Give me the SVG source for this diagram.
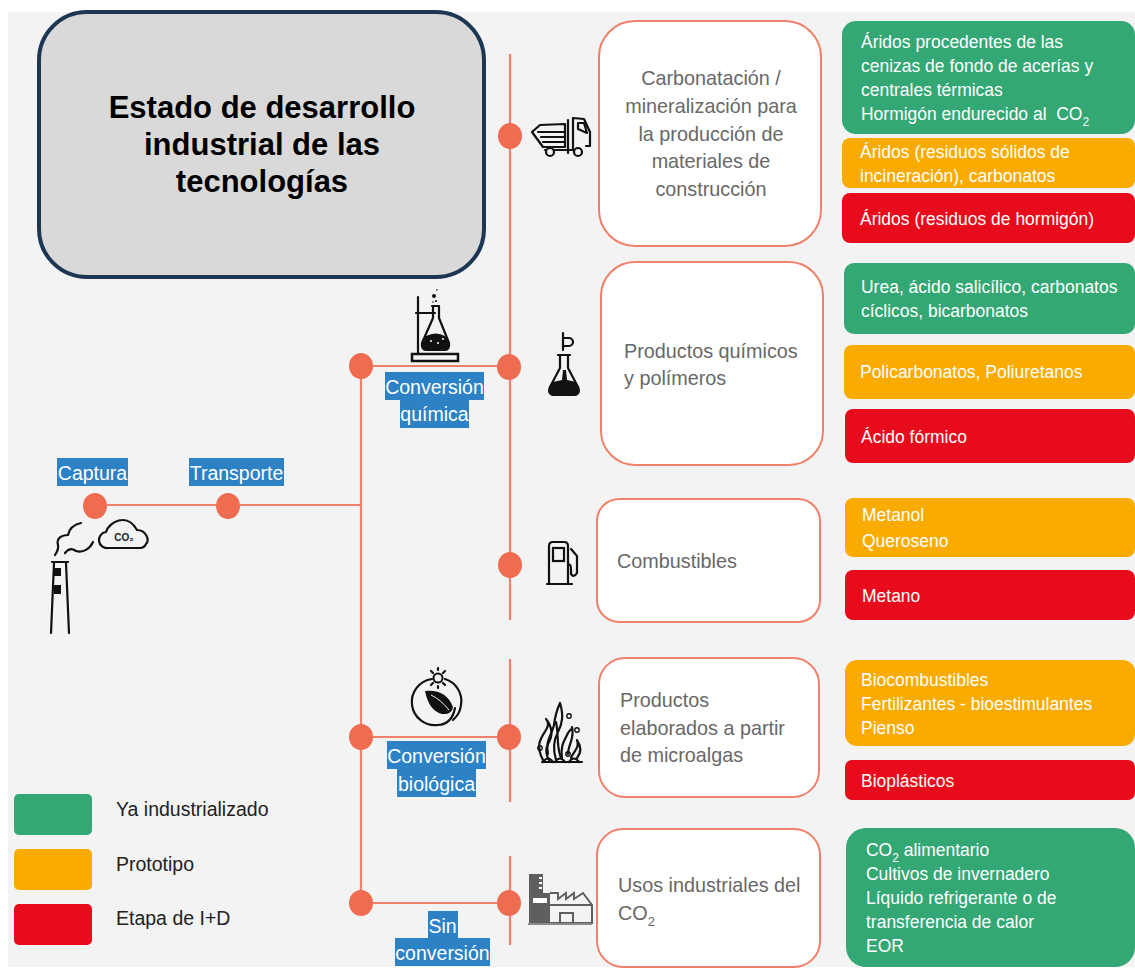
<svg xmlns="http://www.w3.org/2000/svg" width="1135" height="968" viewBox="0 0 1135 968">
<style>
text{font-family:"Liberation Sans",Arial,sans-serif;font-size:19px}
.box{fill:#fff;stroke:#f0806a;stroke-width:2}
.g{fill:#33a875}.o{fill:#f9ab00}.r{fill:#e70b1c}
.w{fill:#fff}
.t{fill:#686868;font-size:19.8px}
.m{text-anchor:middle}
.lab{fill:#2c82c4}
.ll{fill:#fff;font-size:19.5px}
.line{stroke:#f0806a;stroke-width:2.2;fill:none}
.dot{fill:#f06c50}
.k{fill:none;stroke:#111;stroke-width:2.200;stroke-linecap:round;stroke-linejoin:round}
.f{fill:#111}
.leg{fill:#222;font-size:19.5px}
.ti{font-weight:bold;font-size:31px;fill:#000;text-anchor:middle}
.fac{fill:none;stroke:#5f5f5f;stroke-width:2}
</style>
<rect width="1135" height="968" fill="#fff"/>
<rect x="8" y="12" width="1127" height="955" fill="#f3f3f3"/>
<g id="connectors">
<path class="line" d="M95 505H361M361 366V903M361 366H509M361 737H509M361 903H509M510 54V620M510 659V802M510 856V945"/>
</g>
<g id="title">
<rect x="39" y="12" width="445" height="265" rx="48" fill="#d9d9d9" stroke="#1c3654" stroke-width="4"/>
<text x="262" y="118" class="ti">Estado de desarrollo</text>
<text x="262" y="155" class="ti">industrial de las</text>
<text x="262" y="192" class="ti">tecnologías</text>
</g>
<g id="dots">
<ellipse class="dot" cx="95" cy="506" rx="12" ry="13"/><ellipse class="dot" cx="228" cy="506" rx="12" ry="13"/>
<ellipse class="dot" cx="361" cy="366" rx="12" ry="13"/><ellipse class="dot" cx="510" cy="136" rx="12" ry="13"/><ellipse class="dot" cx="509" cy="367" rx="12" ry="13"/><ellipse class="dot" cx="510" cy="565" rx="12" ry="13"/>
<ellipse class="dot" cx="361" cy="737" rx="12" ry="13"/><ellipse class="dot" cx="509" cy="737" rx="12" ry="13"/><ellipse class="dot" cx="361" cy="903" rx="12" ry="13"/><ellipse class="dot" cx="509" cy="903" rx="12" ry="13"/>
</g>
<g id="captura"><rect class="lab" x="57" y="458" width="71" height="28"/><text class="ll m" x="92.500" y="480">Captura</text></g>
<g id="transporte"><rect class="lab" x="189" y="458" width="95" height="28"/><text class="ll m" x="236.500" y="480">Transporte</text></g>
<g id="conv-quimica"><rect class="lab" x="385" y="372" width="99" height="28"/><rect class="lab" x="400" y="400" width="69" height="28"/><text class="ll m" x="434.500" y="394">Conversión</text><text class="ll m" x="434.500" y="421">química</text></g>
<g id="conv-biologica"><rect class="lab" x="387" y="741" width="99" height="28"/><rect class="lab" x="397" y="769" width="79" height="28"/><text class="ll m" x="436.500" y="763">Conversión</text><text class="ll m" x="436.500" y="791">biológica</text></g>
<g id="sin-conversion"><rect class="lab" x="428" y="911" width="30" height="27"/><rect class="lab" x="395" y="938" width="95" height="28"/><text class="ll m" x="442.500" y="933">Sin</text><text class="ll m" x="442.500" y="960">conversión</text></g>

<g id="icon-chimney">
<path class="k" d="M81 523C72 525 69 530 68 535C62 535 56 538 58 545C59 549 57 552 55 555M65 553C68 549 72 548 76 551C83 553 90 549 93 542" stroke-width="2.800"/>
<path class="k" d="M52 562H68M54 563L51 633M66 563L69 633" stroke-width="2.600"/>
<rect class="f" x="54" y="568" width="7" height="8"/><rect class="f" x="54" y="585" width="7" height="9"/>
<path class="k" d="M108 548A8 8 0 0 1 106 532C109 522 127 512 137 530C146 530 150 540 146 544Q144 548 140 548Z" stroke-width="2.500"/>
<text x="124" y="541" class="m" style="font-weight:bold;font-size:10px" fill="#222">CO₂</text>
</g>
<g id="icon-flask-stand">
<path class="k" d="M418 297V354M416 313H435" stroke-width="2.500"/>
<rect x="412" y="354" width="46" height="7" fill="none" stroke="#111" stroke-width="2.500"/>
<path class="k" d="M432 306H439M433 306V318L422 343Q421 350 427 350H444Q450 350 449 343L439 318V306" stroke-width="2.500"/>
<path class="f" d="M426 336Q436 331 445 336L449 344Q449 350 444 350H427Q421 350 422 344z"/>
<circle cx="431" cy="341" r="1" fill="#fff"/><circle cx="438" cy="343" r="1" fill="#fff"/><circle cx="443" cy="339" r="1" fill="#fff"/>
<circle class="f" cx="434" cy="296" r="2"/><circle class="f" cx="437" cy="290" r="0.800"/><circle class="f" cx="436" cy="301" r="1"/><circle class="f" cx="433" cy="302" r="0.800"/>
</g>
<g id="icon-truck">
<path class="k" d="M532 132L540 125L565 124V147H543z" stroke-width="2"/><path class="k" d="M538 132H565M541 137H565M543 142H565"/>
<path class="k" d="M568 120V153" stroke-width="3"/>
<path class="k" d="M573 150V118L584 119L590 132V146H586M578 123H584L587 133L578 129z"/>
<path class="k" d="M545 150H573" stroke-width="3"/>
<circle cx="550" cy="152" r="4" fill="#f3f3f3" stroke="#111" stroke-width="2.200"/><circle cx="578" cy="152" r="4" fill="#f3f3f3" stroke="#111" stroke-width="2.200"/>
</g>
<g id="icon-flask">
<path class="k" d="M563 333V350M564 338H569A4 4 0 0 1 569 346H564" stroke-width="2.500"/>
<path class="k" d="M558 355H570M560 355V368L550 387Q547 395 555 395H573Q581 395 578 387L568 368V355" stroke-width="2.500"/>
<path class="f" d="M553 382L562 380L563 370H566L567 380L576 382L579 388Q581 396 573 396H555Q547 396 549 388z"/>
</g>
<g id="icon-fuel">
<path class="k" d="M549 583V546Q549 542 553 542H564Q568 542 568 546V583M547 584H572"/>
<rect x="553" y="548" width="11" height="13" fill="none" stroke="#111" stroke-width="2.200"/>
<path class="k" d="M568 564Q571 564 571 569V574Q574 578 577 573V556L571 549"/>
</g>
<g id="icon-leaf">
<path class="k" d="M432 679A23 23 0 0 0 438 725Q452 724 455 708" stroke-width="2.600"/>
<path class="k" d="M445 679A23 23 0 0 1 461 705Q460 714 453 720" stroke-width="2.600"/>
<circle cx="438" cy="678" r="4.500" fill="none" stroke="#111" stroke-width="2"/>
<path class="k" d="M438 668V670M438 686V688M431 671L433 673M445 671L443 673M431 685L433 683M445 685L443 683" stroke-width="1.500"/>
<path class="f" d="M425 691Q446 689 453 707Q452 715 442 714Q429 711 425 691z"/>
<path d="M431 695Q440 699 449 710" stroke="#f3f3f3" fill="none"/>
</g>
<g id="icon-algae">
<path class="k" d="M543 760C535 745 541 738 546 730C549 725 549 722 546 719C553 728 553 736 548 744C545 750 546 755 549 760" stroke-width="1.800"/>
<path class="k" d="M548 754C545 740 552 735 554 725C555 716 556 712 560 703C564 716 562 724 558 732C553 741 553 750 556 760M556 722C559 735 556 745 561 758" stroke-width="1.800"/>
<path class="k" d="M562 758C560 745 565 740 568 733C572 727 572 730 572 727C575 738 568 745 568 754M571 758C574 750 580 748 577 740C581 746 582 752 577 758" stroke-width="1.800"/>
<path class="k" d="M542 762H582M543 762Q548 755 553 762M555 762Q560 755 565 762M569 762Q574 755 579 762" stroke-width="2"/>
<circle cx="540" cy="748" r="2.200" fill="none" stroke="#111" stroke-width="1.400"/><circle cx="569" cy="716" r="2.200" fill="none" stroke="#111" stroke-width="1.400"/><circle cx="577" cy="730" r="2.200" fill="none" stroke="#111" stroke-width="1.400"/><circle cx="568" cy="754" r="2.200" fill="none" stroke="#111" stroke-width="1.400"/>
</g>
<g id="icon-factory">
<rect x="529" y="874" width="14" height="30" fill="#5f5f5f"/>
<rect x="529" y="893" width="21" height="30" fill="#5f5f5f"/>
<rect x="533" y="898" width="14" height="5" fill="#fff"/>
<path d="M539 878H542M539 883H542M539 888H542" stroke="#fff" stroke-width="2"/>
<path class="fac" d="M550 893L558 893L558 899L566 893L566 899L574 893L574 899L583 893L592 905V923H550"/>
<path class="fac" d="M550 905H592"/>
<rect x="560" y="913" width="13" height="10" class="fac"/>
<path d="M528 924H592" stroke="#888" stroke-width="2"/>
</g>

<g id="n1"><rect class="box" x="599" y="21" width="222" height="225" rx="36"/>
<text class="t m" x="711" y="85">Carbonatación /</text><text class="t m" x="711" y="113">mineralización para</text><text class="t m" x="711" y="141">la producción de</text><text class="t m" x="711" y="168">materiales de</text><text class="t m" x="711" y="196">construcción</text></g>
<g id="n2"><rect class="box" x="601" y="262" width="222" height="203" rx="34"/>
<text class="t" x="624" y="358">Productos químicos</text><text class="t" x="624" y="385">y polímeros</text></g>
<g id="n3"><rect class="box" x="597" y="499" width="223" height="123" rx="22"/>
<text class="t" x="617" y="568">Combustibles</text></g>
<g id="n4"><rect class="box" x="599" y="658" width="220" height="139" rx="26"/>
<text class="t" x="620" y="707">Productos</text><text class="t" x="620" y="735">elaborados a partir</text><text class="t" x="620" y="762">de microalgas</text></g>
<g id="n5"><rect class="box" x="597" y="829" width="223" height="138" rx="26"/>
<text class="t" x="618" y="892">Usos industriales del</text><text class="t" x="618" y="920">CO<tspan dy="6" font-size="13">2</tspan></text></g>

<g id="p1a"><rect class="g" x="842" y="21" width="293" height="113" rx="14"/>
<g transform="translate(861 0) scale(.92 1)"><text class="w" y="48">Áridos procedentes de las</text><text class="w" y="72">cenizas de fondo de acerías y</text><text class="w" y="96">centrales térmicas</text><text class="w" y="120" xml:space="preserve">Hormigón endurecido al  CO<tspan dy="6" font-size="13">2</tspan></text></g></g>
<g id="p1b"><rect class="o" x="842" y="138" width="293" height="50" rx="8"/><g transform="translate(860 0) scale(.92 1)"><text class="w" y="158">Áridos (residuos sólidos de</text><text class="w" y="182">incineración), carbonatos</text></g></g>
<g id="p1c"><rect class="r" x="842" y="193" width="293" height="50" rx="8"/><g transform="translate(860 0) scale(.92 1)"><text class="w" y="225">Áridos (residuos de hormigón)</text></g></g>
<g id="p2a"><rect class="g" x="844" y="263" width="291" height="71" rx="10"/><g transform="translate(861 0) scale(.92 1)"><text class="w" y="293">Urea, ácido salicílico, carbonatos</text><text class="w" y="317">cíclicos, bicarbonatos</text></g></g>
<g id="p2b"><rect class="o" x="844" y="345" width="291" height="54" rx="8"/><g transform="translate(860 0) scale(.92 1)"><text class="w" y="378">Policarbonatos, Poliuretanos</text></g></g>
<g id="p2c"><rect class="r" x="845" y="409" width="290" height="54" rx="8"/><g transform="translate(861 0) scale(.92 1)"><text class="w" y="443">Ácido fórmico</text></g></g>
<g id="p3a"><rect class="o" x="845" y="498" width="290" height="59" rx="8"/><g transform="translate(862 0) scale(.92 1)"><text class="w" y="521">Metanol</text><text class="w" y="547">Queroseno</text></g></g>
<g id="p3b"><rect class="r" x="845" y="570" width="290" height="50" rx="8"/><g transform="translate(862 0) scale(.92 1)"><text class="w" y="602">Metano</text></g></g>
<g id="p4a"><rect class="o" x="845" y="660" width="290" height="86" rx="12"/><g transform="translate(861 0) scale(.92 1)"><text class="w" y="686">Biocombustibles</text><text class="w" y="710">Fertilizantes - bioestimulantes</text><text class="w" y="734">Pienso</text></g></g>
<g id="p4b"><rect class="r" x="845" y="760" width="290" height="40" rx="7"/><g transform="translate(861 0) scale(.92 1)"><text class="w" y="787">Bioplásticos</text></g></g>
<g id="p5"><rect class="g" x="846" y="828" width="289" height="139" rx="20"/><g transform="translate(866 0) scale(.92 1)"><text class="w" y="856">CO<tspan dy="6" font-size="13">2</tspan><tspan dy="-6"> alimentario</tspan></text><text class="w" y="880">Cultivos de invernadero</text><text class="w" y="904">Líquido refrigerante o de</text><text class="w" y="928">transferencia de calor</text><text class="w" y="952">EOR</text></g></g>

<g id="legend">
<rect class="g" x="14" y="794" width="78" height="41" rx="5"/><rect class="o" x="14" y="849" width="78" height="41" rx="5"/><rect class="r" x="14" y="904" width="78" height="41" rx="5"/>
<text class="leg" x="116" y="816">Ya industrializado</text><text class="leg" x="116" y="871">Prototipo</text><text class="leg" x="116" y="925">Etapa de I+D</text>
</g>
</svg>
